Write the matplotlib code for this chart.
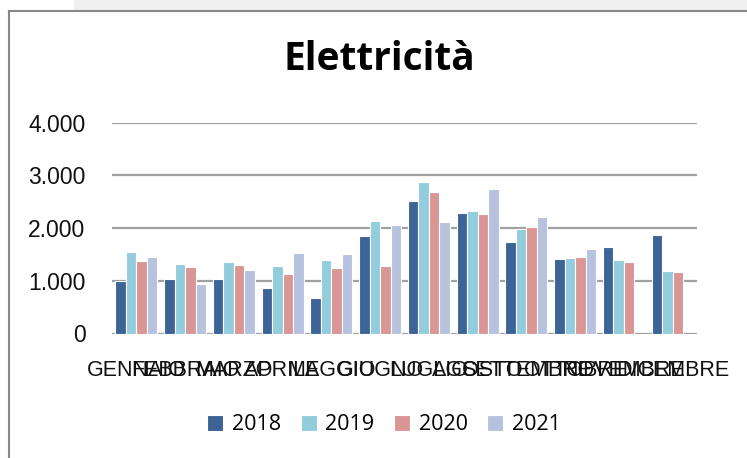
import numpy as np
import matplotlib.pyplot as plt
from matplotlib.patches import Rectangle
from matplotlib.lines import Line2D
from matplotlib.ticker import FuncFormatter

mesi = ['GENNAIO', 'FEBBRAIO', 'MARZO', 'APRILE', 'MAGGIO', 'GIUGNO',
        'LUGLIO', 'AGOSTO', 'SETTEMBRE', 'OTTOBRE', 'NOVEMBRE', 'DICEMBRE']
anni = ['2018', '2019', '2020', '2021']

kwh_2018 = [1000, 1030, 1040, 860, 670, 1850, 2510, 2290, 1730, 1410, 1650, 1860]
kwh_2019 = [1550, 1310, 1365, 1285, 1390, 2135, 2880, 2330, 1985, 1425, 1395, 1185]
kwh_2020 = [1370, 1255, 1300, 1125, 1245, 1275, 2685, 2260, 2020, 1450, 1350, 1165]
kwh_2021 = [1460, 930, 1200, 1525, 1500, 2055, 2110, 2735, 2205, 1595, np.nan, np.nan]

colori = ['#3C6496', '#93CDDD', '#D99694', '#B7C3DE']

fig = plt.figure(figsize=(7.47, 4.58), dpi=100)
W, H = 747, 458

# striscia grigia in alto e cornice del grafico
fig.patches.append(Rectangle((74 / W, 1 - 10 / H), 1, 10 / H,
                             transform=fig.transFigure, color='#f0f0f0', zorder=0))
fig.add_artist(Line2D([9 / W, 1], [1 - 10.5 / H, 1 - 10.5 / H],
                      transform=fig.transFigure, color='#888888', lw=1.5))
fig.add_artist(Line2D([9 / W, 9 / W], [0, 1 - 10.5 / H],
                      transform=fig.transFigure, color='#888888', lw=1.5))

ax = fig.add_axes([112 / W, 124.5 / H, 585 / W, 210.8 / H])

x = np.arange(len(mesi))
w = 0.215
serie = [kwh_2018, kwh_2019, kwh_2020, kwh_2021]
for i, (vals, c, anno) in enumerate(zip(serie, colori, anni)):
    ax.bar(x + (i - 1.5) * w, vals, width=w, color=c, edgecolor='white',
           linewidth=0.8, label=anno, zorder=3)

ax.set_xlim(-0.5, 11.5)
ax.set_ylim(0, 4000)
ax.set_yticks([0, 1000, 2000, 3000, 4000])
ax.yaxis.set_major_formatter(FuncFormatter(lambda v, p: f'{int(v):,}'.replace(',', '.')))
ax.set_xticks(x)
ax.set_xticklabels(mesi, fontfamily='Liberation Sans', fontsize=15.5, color='#111111')
for t in ax.get_yticklabels():
    t.set_fontfamily('Liberation Sans')
    t.set_fontsize(16.5)
    t.set_color('#111111')
ax.tick_params(axis='both', length=0)
ax.tick_params(axis='x', pad=19)
ax.tick_params(axis='y', pad=19)
ax.yaxis.grid(True, color='#a0a0a0', lw=1.6, zorder=1)
for s in ax.spines.values():
    s.set_visible(False)

fig.text(0.508, 1 - 60 / H, 'Elettricità', ha='center', va='center',
         fontsize=28, fontweight='bold', fontfamily='Open Sans')

fig.legend(loc='center', bbox_to_anchor=(0.514, 1 - 425 / H), ncol=4, frameon=False,
           prop={'family': 'Open Sans', 'size': 15.5}, handlelength=0.75,
           handleheight=0.75, handletextpad=0.4, columnspacing=0.9)

fig.savefig('out.png', dpi=100)
